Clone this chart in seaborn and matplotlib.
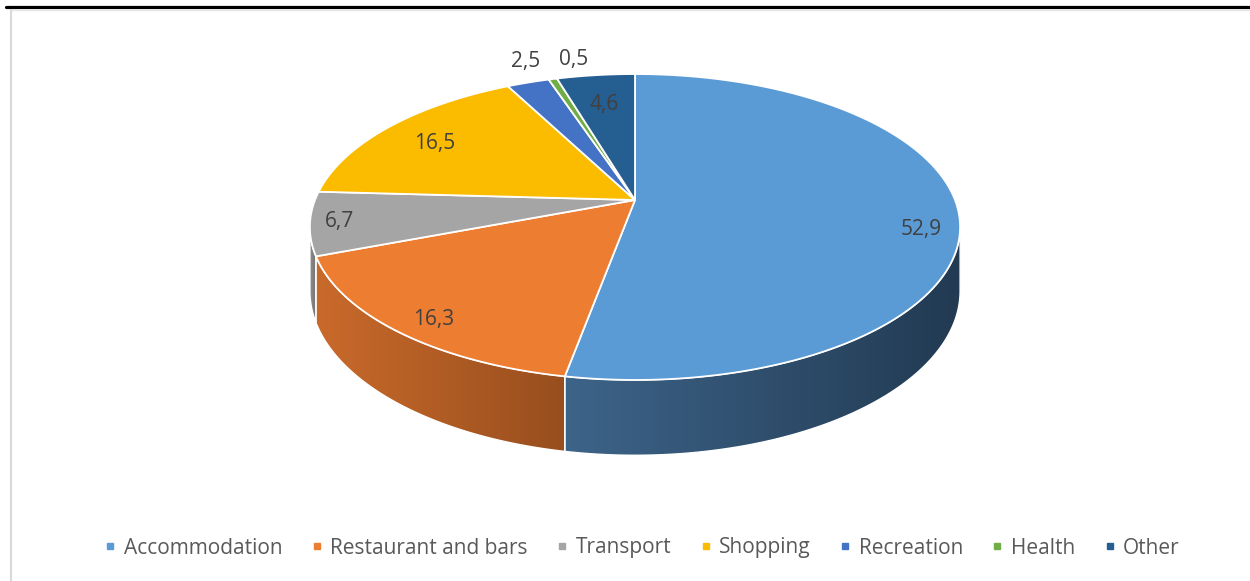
import numpy as np
import matplotlib
matplotlib.use("Agg")
import matplotlib.pyplot as plt
import seaborn as sns
from matplotlib.transforms import Transform
from matplotlib.path import Path
from matplotlib.patches import PathPatch
from matplotlib.lines import Line2D
from matplotlib.colors import LinearSegmentedColormap

# ---------------- data ----------------
categories = ["Accommodation", "Restaurant and bars", "Transport", "Shopping",
              "Recreation", "Health", "Other"]
values = [52.9, 16.3, 6.7, 16.5, 2.5, 0.5, 4.6]

# ---------------- style ----------------
top_colors = ["#5B9BD5", "#ED7D31", "#A5A5A5", "#FBBC00", "#4472C4", "#70AD47", "#255E91"]
side_light = ["#3D6489", "#C96A2B", "#8E8E8E", "#C89600", "#365C9D", "#5A8A39", "#1E4B74"]
side_dark = ["#223A52", "#984E1E", "#6E6E6E", "#9C7500", "#27457A", "#446C2B", "#173A5A"]

sns.set_theme(style="white")
plt.rcParams["font.family"] = ["Open Sans", "DejaVu Sans"]

W, H = 1250, 581
CX, CY = 635.0, 200.0      # pixel position of pie centre
A, B, K = 320.0, 148.2, 0.1765   # perspective parameters
DEPTH = 62.0               # thickness of the pie (px)


def project(u, v, z=0.0):
    u = np.asarray(u, float)
    v = np.asarray(v, float)
    w = 1.0 + K * v
    return CX + A * u / w, CY - B * v / w + z * DEPTH / w


class PerspectiveTransform(Transform):
    input_dims = 2
    output_dims = 2
    is_separable = False
    has_inverse = False

    def __init__(self, z=0.0):
        super().__init__()
        self.z = z

    def transform_non_affine(self, values):
        values = np.asarray(values, float).reshape(-1, 2)
        x, y = project(values[:, 0], values[:, 1], self.z)
        return np.column_stack([x, y])

    def transform_path_non_affine(self, path):
        polys, cur = [], None
        for bez, code in path.iter_bezier():
            if code == Path.MOVETO:
                if cur:
                    polys.append(np.vstack(cur))
                cur = [np.atleast_2d(bez.control_points)]
            else:
                cur.append(bez(np.linspace(0, 1, 30))[1:])
        if cur:
            polys.append(np.vstack(cur))
        paths = [Path(self.transform_non_affine(p)) for p in polys]
        return Path.make_compound_path(*paths)


fig = plt.figure(figsize=(W / 100, H / 100), dpi=100)
ax = fig.add_axes([0, 0, 1, 1])

wedges, _ = ax.pie(values, colors=top_colors, startangle=90, counterclock=False,
                   wedgeprops=dict(edgecolor="white", linewidth=1.3))
persp = PerspectiveTransform(0.0)
for w in wedges:
    w.set_transform(persp + ax.transData)
    w.set_zorder(3)

# side walls (front visible part) with horizontal shading
tlim = np.degrees(np.arcsin(K))
grad = np.linspace(0, 1, 256)[None, :]
for i, w in enumerate(wedges):
    for s in (-360, 0, 360):
        lo = max(w.theta1, -180 + tlim + s)
        hi = min(w.theta2, -tlim + s)
        if hi <= lo:
            continue
        t = np.radians(np.linspace(lo, hi, 120))
        xt, yt = project(np.cos(t), np.sin(t), 0.0)
        xb, yb = project(np.cos(t), np.sin(t), 1.0)
        verts = np.column_stack([np.r_[xt, xb[::-1]], np.r_[yt, yb[::-1]]])
        verts = np.vstack([verts, verts[:1]])
        patch = PathPatch(Path(verts, closed=True), facecolor="none",
                          edgecolor="white", linewidth=1.0, zorder=2,
                          transform=ax.transData)
        ax.add_patch(patch)
        cmap = LinearSegmentedColormap.from_list(f"side{i}", [side_light[i], side_dark[i]])
        im = ax.imshow(grad, cmap=cmap, aspect="auto", zorder=1, interpolation="bilinear",
                       extent=(verts[:, 0].min(), verts[:, 0].max(),
                               verts[:, 1].max(), verts[:, 1].min()))
        im.set_clip_path(patch)

# value labels
label_dist = [0.88, 0.88, 0.91, 0.80, 1.20, 1.20, 0.75]
label_nudge = [(2, 17), (3, 6), (0, 0), (-1, 3), (15, -1), (34, 1), (0, 2)]
for i, w in enumerate(wedges):
    mid = np.radians((w.theta1 + w.theta2) / 2)
    d = label_dist[i]
    x, y = project(d * np.cos(mid), d * np.sin(mid))
    ax.text(x + label_nudge[i][0], y + label_nudge[i][1],
            f"{values[i]:.1f}".replace(".", ","),
            ha="center", va="center", fontsize=15, color="#404040", zorder=5)

ax.set_aspect("auto")
ax.set_xlim(0, W)
ax.set_ylim(H, 0)
ax.axis("off")

# legend
handles = [Line2D([], [], marker="s", linestyle="", markersize=5, color=c) for c in top_colors]
fig.legend(handles, categories, loc="center", bbox_to_anchor=(0.513, 1 - 548 / H),
           ncol=7, frameon=False, fontsize=15, handlelength=0.7, handletextpad=0.3,
           columnspacing=1.3, labelcolor="#595959")

# page frame lines
fig.add_artist(Line2D([6 / W, 1], [1 - 7 / H, 1 - 7 / H], color="black", linewidth=2.3))
fig.add_artist(Line2D([10.5 / W, 1], [1 - 10 / H, 1 - 10 / H], color="#e6e6e6", linewidth=1.0))
fig.add_artist(Line2D([10.5 / W, 10.5 / W], [1 - 10 / H, 0], color="#d9d9d9", linewidth=1.5))

fig.savefig("out.png", dpi=100)
